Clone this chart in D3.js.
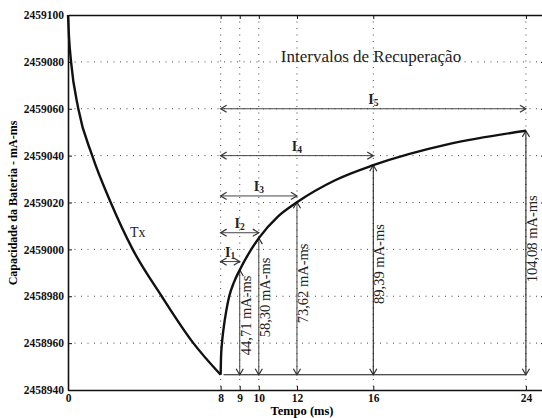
<!DOCTYPE html>
<html>
<head>
<meta charset="utf-8">
<script src="https://cdn.jsdelivr.net/npm/d3@7"></script>
<style>
body { margin: 0; background: #fff; }
svg text { font-family: "Liberation Serif", "Times New Roman", serif; }
</style>
</head>
<body>
<svg width="542" height="418"></svg>
<script>
// dados
var xTicks = [0, 8, 9, 10, 12, 16, 24];
var yTicks = [2458940, 2458960, 2458980, 2459000, 2459020, 2459040, 2459060, 2459080, 2459100];

// descarga (Tx)
var descT = [0, 0.05, 0.16, 0.54, 1.27, 2.24, 3.39, 4.91, 6.57, 8];
var descV = [2459100, 2459091, 2459080, 2459060, 2459040, 2459020, 2459000, 2458980, 2458960, 2458946.5];

// recuperação
var recT = [8, 8.02, 8.07, 8.15, 8.3, 8.45, 8.7, 9, 10, 11, 12, 14, 16, 20, 24];
var recV = [2458946.5, 2458954, 2458960, 2458966, 2458974, 2458980, 2458986, 2458991.2, 2459004.8, 2459014, 2459020.1, 2459029.5, 2459035.9, 2459045, 2459050.6];

var minimo = 2458946.5;
var intervaloFim = [9, 10, 12, 16, 24];
var ganho = [44.71, 58.30, 73.62, 89.39, 104.08];
var intervaloY = [2458994.8, 2459007.1, 2459022.8, 2459040, 2459060];
var intervaloNome = ["1", "2", "3", "4", "5"];

var svg = d3.select("svg");
var x = d3.scaleLinear().domain([0, 25]).range([68, 545]);
var y = d3.scaleLinear().domain([2458940, 2459100]).range([390, 15]);

// grade pontilhada
var grid = svg.append("g").attr("stroke", "#444").attr("stroke-width", 1).attr("stroke-dasharray", "1,5.5");
grid.selectAll(".gx").data(xTicks.filter(function(d){ return d > 0; })).enter().append("line")
    .attr("x1", function(d){ return x(d); }).attr("x2", function(d){ return x(d); })
    .attr("y1", y(2459100)).attr("y2", y(2458940));
grid.selectAll(".gy").data(yTicks.slice(1, -1)).enter().append("line")
    .attr("x1", x(0)).attr("x2", x(25))
    .attr("y1", function(d){ return y(d); }).attr("y2", function(d){ return y(d); });

// eixos
var fmtTick = function(d){ return d3.format("d")(d); };
svg.append("g").attr("transform", "translate(" + x(0) + ",0)")
    .call(d3.axisLeft(y).tickValues(yTicks).tickFormat(fmtTick).tickSizeInner(-4).tickSizeOuter(0).tickPadding(4));
svg.append("g").attr("transform", "translate(0," + y(2458940) + ")")
    .call(d3.axisBottom(x).tickValues(xTicks).tickSizeInner(-4).tickSizeOuter(0).tickPadding(4));
svg.append("g").attr("transform", "translate(0," + y(2459100) + ")")
    .call(d3.axisTop(x).tickValues(xTicks).tickFormat("").tickSizeInner(-4).tickSizeOuter(0));
svg.append("g").attr("transform", "translate(" + x(25) + ",0)")
    .call(d3.axisRight(y).tickValues(yTicks).tickFormat("").tickSizeInner(-4).tickSizeOuter(0));
svg.selectAll(".domain").attr("stroke", "#111").attr("stroke-width", 1.6);
svg.selectAll(".tick line").attr("stroke", "#111");
svg.selectAll(".tick text").attr("font-family", "Liberation Serif").attr("font-weight", "bold")
    .attr("font-size", "11.5px").attr("fill", "#111");

// rótulos dos eixos
svg.append("text").attr("x", 302).attr("y", 415).attr("text-anchor", "middle")
    .attr("font-weight", "bold").attr("font-size", "12.5px").text("Tempo (ms)");
svg.append("text").attr("transform", "translate(17,203) rotate(-90)").attr("text-anchor", "middle")
    .attr("font-weight", "bold").attr("font-size", "12px").text("Capacidade da Bateria - mA-ms");

// setas
var defs = svg.append("defs");
defs.append("marker").attr("id", "seta").attr("markerUnits", "userSpaceOnUse")
    .attr("markerWidth", 12).attr("markerHeight", 12).attr("refX", 0).attr("refY", 0)
    .attr("viewBox", "-7 -5 9 10").attr("orient", "auto-start-reverse")
    .append("path").attr("d", "M-5,-3L0,0L-5,3").attr("fill", "none").attr("stroke", "#333").attr("stroke-width", 1);

// linha base
svg.append("line").attr("x1", x(8.15)).attr("x2", x(24))
    .attr("y1", y(minimo)).attr("y2", y(minimo)).attr("stroke", "#111").attr("stroke-width", 1.2);

var fmt = d3.formatLocale({decimal: ",", thousands: ".", grouping: [3], currency: ["", ""]}).format(".2f");
var desloc = [-7, -9, -5, -6, -14];

// setas verticais
svg.selectAll(".vseta").data(intervaloFim).enter().append("line")
    .attr("x1", function(d){ return x(d); }).attr("x2", function(d){ return x(d); })
    .attr("y1", y(minimo)).attr("y2", function(d, i){ return y(minimo + ganho[i]); })
    .attr("stroke", function(d){ return d >= 16 ? "#111" : "#444"; }).attr("stroke-width", 1)
    .attr("marker-start", "url(#seta)").attr("marker-end", "url(#seta)");
svg.selectAll(".vtxt").data(intervaloFim).enter().append("text")
    .attr("transform", function(d, i){
        var yc = (y(minimo) + y(minimo + ganho[i])) / 2 + desloc[i];
        return "translate(" + (x(d) + 11) + "," + yc + ") rotate(-90)";
    })
    .attr("text-anchor", "middle").attr("font-size", "14.5px").attr("fill", "#222")
    .text(function(d, i){ return fmt(ganho[i]) + " mA-ms"; });

// setas horizontais
svg.selectAll(".hseta").data(intervaloFim).enter().append("line")
    .attr("x1", x(8)).attr("x2", function(d){ return x(d); })
    .attr("y1", function(d, i){ return y(intervaloY[i]); }).attr("y2", function(d, i){ return y(intervaloY[i]); })
    .attr("stroke", "#444").attr("stroke-width", 1)
    .attr("marker-start", "url(#seta)").attr("marker-end", "url(#seta)");
var rot = svg.selectAll(".htxt").data(intervaloFim).enter().append("text")
    .attr("x", function(d){ return x((8 + d) / 2); })
    .attr("y", function(d, i){ return y(intervaloY[i]) - 5; })
    .attr("text-anchor", "middle").attr("font-weight", "bold").attr("font-size", "14px").attr("fill", "#222");
rot.append("tspan").text("I");
rot.append("tspan").attr("font-size", "9.5px").attr("dy", 2).text(function(d, i){ return intervaloNome[i]; });

// curvas
var linha = d3.line().curve(d3.curveMonotoneX)
    .x(function(d){ return x(d[0]); }).y(function(d){ return y(d[1]); });
svg.append("path").datum(d3.zip(descT, descV)).attr("d", linha)
    .attr("fill", "none").attr("stroke", "#111").attr("stroke-width", 2.4);
svg.append("path").datum(d3.zip(recT, recV)).attr("d", linha)
    .attr("fill", "none").attr("stroke", "#111").attr("stroke-width", 2.4);

// textos
svg.append("text").attr("x", 130).attr("y", 237).attr("font-size", "14px").attr("fill", "#222").text("Tx");
svg.append("text").attr("x", 371).attr("y", 62).attr("text-anchor", "middle")
    .attr("font-size", "17px").attr("fill", "#222").text("Intervalos de Recuperação");
</script>
</body>
</html>
